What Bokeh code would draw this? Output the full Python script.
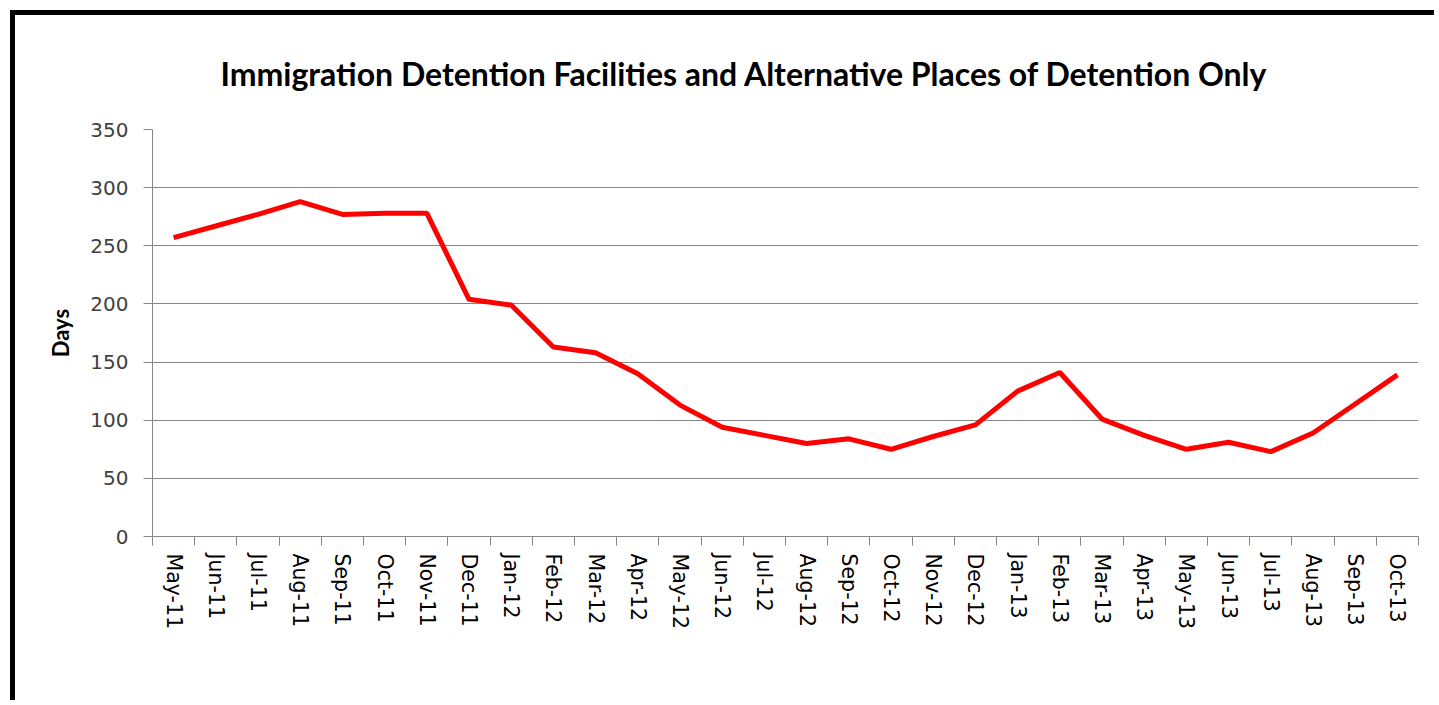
from bokeh.plotting import figure
from bokeh.models import Range1d, LinearAxis, FixedTicker, ColumnDataSource
from bokeh.embed import file_html
from bokeh.resources import INLINE

months = ["May-11", "Jun-11", "Jul-11", "Aug-11", "Sep-11", "Oct-11", "Nov-11", "Dec-11",
          "Jan-12", "Feb-12", "Mar-12", "Apr-12", "May-12", "Jun-12", "Jul-12", "Aug-12",
          "Sep-12", "Oct-12", "Nov-12", "Dec-12", "Jan-13", "Feb-13", "Mar-13", "Apr-13",
          "May-13", "Jun-13", "Jul-13", "Aug-13", "Sep-13", "Oct-13"]
days = [257, 267, 277, 288, 277, 278, 278, 204, 199, 163, 158, 140, 113, 94, 87, 80,
        84, 75, 86, 96, 125, 141, 101, 87, 75, 81, 73, 89, 114, 139]
y_ticks = [0, 50, 100, 150, 200, 250, 300, 350]
title_text = "Immigration Detention Facilities and Alternative Places of Detention Only"
y_label = "Days"

n = len(months)
centers = [i + 0.5 for i in range(n)]
bounds = list(range(n + 1))

W, H = 1424, 690
GRAY = "#868686"

p = figure(x_range=Range1d(0, n), y_range=Range1d(0, 350), width=W, height=H,
           output_backend="svg", toolbar_location=None, x_axis_location=None,
           min_border_left=137, min_border_right=W - 1403, min_border_top=110,
           min_border_bottom=H - 521)
# black frame of the picture: top and left bars
p.styles = {"border-top": "5px solid black", "border-left": "5px solid black",
            "margin-left": "10px", "margin-top": "10px"}
p.outline_line_color = None

p.title.text = title_text
p.title.text_font = "Lato"
p.title.text_font_style = "bold"
p.title.text_font_size = "32px"
p.title.align = "left"
p.title.offset = 68
p.title.standoff = 73
p.title.text_color = "black"

# y axis
p.yaxis.ticker = FixedTicker(ticks=y_ticks)
p.yaxis.axis_line_color = GRAY
p.yaxis.major_tick_line_color = GRAY
p.yaxis.major_tick_out = 9
p.yaxis.major_tick_in = 0
p.yaxis.minor_tick_line_color = None
p.yaxis.major_label_text_font = "DejaVu Sans"
p.yaxis.major_label_text_font_size = "20px"
p.yaxis.major_label_text_color = "#404040"
p.yaxis.major_label_standoff = 15
p.yaxis.axis_label = y_label
p.yaxis.axis_label_text_font = "Lato"
p.yaxis.axis_label_text_font_style = "bold"
p.yaxis.axis_label_text_font_size = "22px"
p.yaxis.axis_label_text_color = "black"
p.yaxis.axis_label_standoff = 13

p.ygrid.ticker = FixedTicker(ticks=y_ticks)
p.ygrid.grid_line_color = GRAY
p.ygrid.grid_line_width = 1
p.xgrid.visible = False

# x axis: labels at category centres, ticks at category boundaries
x_axis = LinearAxis(ticker=FixedTicker(ticks=centers, minor_ticks=bounds),
                    major_label_overrides={c: m for c, m in zip(centers, months)},
                    axis_line_color=GRAY, major_tick_line_color=None,
                    major_tick_out=0, major_tick_in=0,
                    minor_tick_line_color=GRAY, minor_tick_out=9, minor_tick_in=0,
                    major_label_orientation="vertical",
                    major_label_text_font="DejaVu Sans",
                    major_label_text_font_size="20.5px",
                    major_label_text_color="black",
                    major_label_standoff=8)
p.add_layout(x_axis, "below")

src = ColumnDataSource(data=dict(x=centers, days=days, month=months))
p.line(x="x", y="days", source=src, line_color="#ff0000", line_width=5)

open("out.html", "w").write(file_html(p, INLINE))
